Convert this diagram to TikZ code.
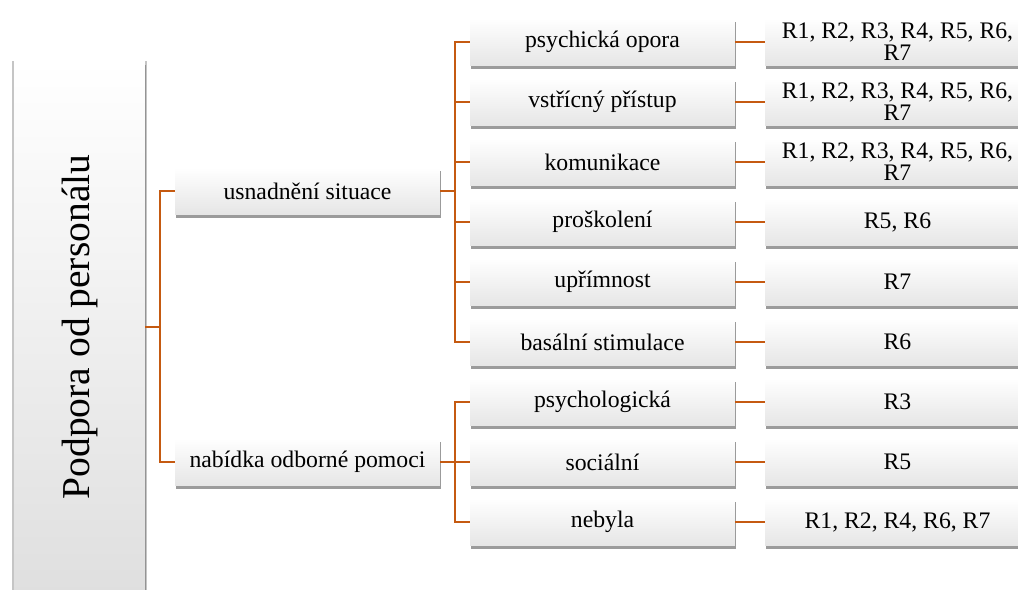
\documentclass[tikz,border=0pt]{standalone}
\usepackage{fontspec}
\setmainfont{Liberation Serif}
\newfontfamily\boxfont{Liberation Serif}
\usetikzlibrary{shadows}
\definecolor{linkorange}{RGB}{197,90,17}
\tikzset{
  box/.style={top color=white, bottom color=gray!20, inner sep=0pt,
    drop shadow={shadow xshift=0.6pt, shadow yshift=-2pt, fill=black!65, opacity=0.6},
    minimum width=5.3cm, minimum height=0.94cm, align=center,
    font=\boxfont\fontsize{13.5}{12.5}\selectfont},
  link/.style={draw=linkorange, line width=1.1pt},
}
\begin{document}
\begin{tikzpicture}[x=0.02cm, y=-0.02cm]
  \useasboundingbox (0,0) rectangle (1018,589);
  \clip (0,0) rectangle (1018,589);
  % root
  \node[box, minimum width=2.62cm, minimum height=10.64cm, bottom color=gray!25,
        drop shadow={shadow xshift=0pt, shadow yshift=-3.6pt, shadow scale=1.025, fill=black!45, opacity=0.5},
        font=\boxfont\fontsize{22.5}{27}\selectfont] (root) at (79.5,327)
        {\rotatebox{90}{Podpora od personálu}};
  % first level
  \node[box] (usn) at (307.5,191) {usnadnění situace};
  \node[box] (nab) at (307.5,462) {nabídka odborné pomoci};
  % second level
  \node[box] (a1) at (602.5,42) {psychická opora};
  \node[box] (a2) at (602.5,102) {vstřícný přístup};
  \node[box] (a3) at (602.5,162) {komunikace};
  \node[box] (a4) at (602.5,222) {proškolení};
  \node[box] (a5) at (602.5,282) {upřímnost};
  \node[box] (a6) at (602.5,342) {basální stimulace};
  \node[box] (a7) at (602.5,402) {psychologická};
  \node[box] (a8) at (602.5,462) {sociální};
  \node[box] (a9) at (602.5,522) {nebyla};
  % third level
  \node[box] (b1) at (897.5,42) {R1, R2, R3, R4, R5, R6,\\R7};
  \node[box] (b2) at (897.5,102) {R1, R2, R3, R4, R5, R6,\\R7};
  \node[box] (b3) at (897.5,162) {R1, R2, R3, R4, R5, R6,\\R7};
  \node[box] (b4) at (897.5,222) {R5, R6};
  \node[box] (b5) at (897.5,282) {R7};
  \node[box] (b6) at (897.5,342) {R6};
  \node[box] (b7) at (897.5,402) {R3};
  \node[box] (b8) at (897.5,462) {R5};
  \node[box] (b9) at (897.5,522) {R1, R2, R4, R6, R7};
  % connectors
  \path (root.east) -- ++(15,0) coordinate (j0);
  \path (usn.east) -- ++(15,0) coordinate (j1);
  \path (nab.east) -- ++(15,0) coordinate (j2);
  \draw[link] (root.east) -- (j0);
  \draw[link] (usn.west) -| (j0) |- (nab.west);
  \draw[link] (usn.east) -- (j1);
  \draw[link] (a1.west) -| (j1) |- (a6.west);
  \foreach \k in {2,...,5}
    \draw[link] (a\k.west) -- (a\k.west -| j1);
  \draw[link] (nab.east) -- (j2);
  \draw[link] (a7.west) -| (j2) |- (a9.west);
  \draw[link] (a8.west) -- (j2);
  \foreach \k in {1,...,9}
    \draw[link] (a\k) -- (b\k);
\end{tikzpicture}
\end{document}
